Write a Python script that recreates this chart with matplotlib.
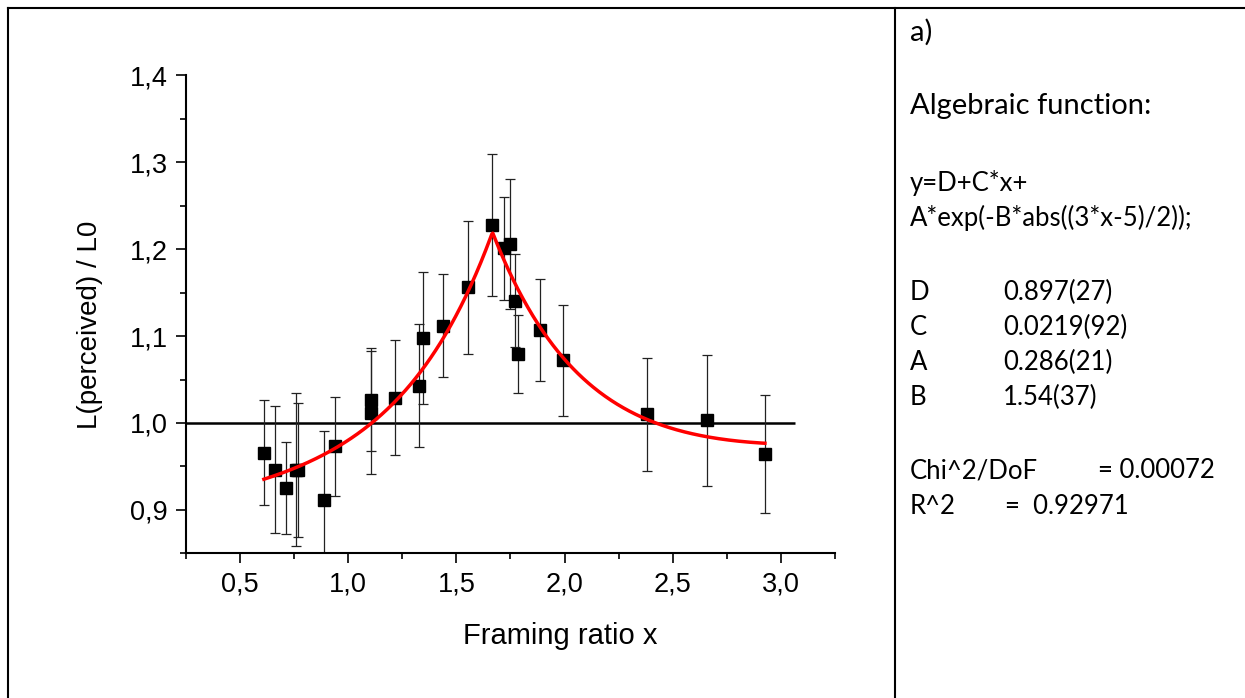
import numpy as np
import matplotlib.pyplot as plt
from matplotlib.lines import Line2D

# measured points (framing ratio, perceived luminance ratio, error)
x = [0.61, 0.66, 0.71, 0.757, 0.767, 0.89, 0.937, 1.107, 1.107, 1.216, 1.326,
     1.346, 1.436, 1.554, 1.664, 1.718, 1.746, 1.773, 1.783, 1.885, 1.992,
     2.381, 2.66, 2.926]
y = [0.966, 0.946, 0.925, 0.946, 0.946, 0.911, 0.973, 1.027, 1.012, 1.029,
     1.043, 1.098, 1.112, 1.156, 1.228, 1.201, 1.206, 1.141, 1.079, 1.107,
     1.072, 1.010, 1.003, 0.964]
yerr = [0.060, 0.073, 0.053, 0.088, 0.077, 0.080, 0.057, 0.059, 0.071, 0.066,
        0.071, 0.076, 0.059, 0.077, 0.082, 0.059, 0.075, 0.053, 0.045, 0.059,
        0.064, 0.065, 0.075, 0.068]

# fit parameters (as printed in the panel)
D, C, A, B = 0.897, 0.0219, 0.286, 1.54
ref_level = 1.0
ref_end = 3.065

xticks = [0.5, 1.0, 1.5, 2.0, 2.5, 3.0]
xtick_labels = ['0,5', '1,0', '1,5', '2,0', '2,5', '3,0']
yticks = [0.9, 1.0, 1.1, 1.2, 1.3, 1.4]
ytick_labels = ['0,9', '1,0', '1,1', '1,2', '1,3', '1,4']

W, H = 1245, 698
fig = plt.figure(figsize=(W / 100, H / 100), dpi=100)


def fx(px):
    return px / W


def fy(py):
    return 1 - py / H


ax = fig.add_axes([fx(186), fy(553.3), fx(835) - fx(186), fy(75.5) - fy(553.3)])

ax.errorbar(x, y, yerr=yerr, fmt='none', ecolor='#222222', elinewidth=0.9,
            capsize=3.5, capthick=0.9, zorder=2)
ax.plot(x, y, 's', color='black', markersize=8, zorder=3)

xf = np.linspace(min(x), max(x), 500)
yf = D + C * xf + A * np.exp(-B * np.abs((3 * xf - 5) / 2))
ax.plot(xf, yf, color='#ff0000', lw=2.5, zorder=4)

ax.hlines(ref_level, 0.25, ref_end, color='black', lw=1.8, zorder=1)

ax.set_xlim(0.25, 3.25)
ax.set_ylim(0.85, 1.4)
ax.spines['top'].set_visible(False)
ax.spines['right'].set_visible(False)
for s in ['left', 'bottom']:
    ax.spines[s].set_linewidth(1.5)

ax.set_xticks(xticks)
ax.set_xticklabels(xtick_labels)
ax.set_yticks(yticks)
ax.set_yticklabels(ytick_labels)
ax.set_xticks(np.arange(0.25, 3.3, 0.5), minor=True)
ax.set_yticks([0.85, 0.95, 1.05, 1.15, 1.25, 1.35], minor=True)
ax.tick_params(which='major', direction='out', length=7, width=1.2,
               labelsize=19.5, pad=6)
ax.tick_params(which='minor', direction='out', length=4, width=1.2)
for lab in ax.get_xticklabels() + ax.get_yticklabels():
    lab.set_family('Liberation Sans')

fig.text(fx(560), fy(636), 'Framing ratio x', ha='center', va='center',
         fontsize=21, family='Liberation Sans')
fig.text(fx(90), fy(325), 'L(perceived) / L0', ha='center', va='center',
         rotation=90, fontsize=20, family='Liberation Sans')

# table-like frame
lw = 1.5
fig.add_artist(Line2D([fx(8), 1], [fy(8), fy(8)], color='black', lw=lw))
fig.add_artist(Line2D([fx(8), fx(8)], [0, fy(8)], color='black', lw=lw))
fig.add_artist(Line2D([fx(895), fx(895)], [0, fy(8)], color='black', lw=lw))

# right-hand panel
big, small = 21, 18.5
tf = 'Lato'
fig.text(fx(910), fy(32), 'a)', fontsize=big, family=tf, va='center')
fig.text(fx(910), fy(106), 'Algebraic function:', fontsize=big, family=tf, va='center')
fig.text(fx(910), fy(183), 'y=D+C*x+', fontsize=small, family=tf, va='center')
fig.text(fx(910), fy(218), 'A*exp(-B*abs((3*x-5)/2));', fontsize=small, family=tf, va='center')

names = ['D', 'C', 'A', 'B']
values = ['0.897(27)', '0.0219(92)', '0.286(21)', '1.54(37)']
for i, (n, v) in enumerate(zip(names, values)):
    yy = 292 + i * 35.3
    fig.text(fx(910), fy(yy), n, fontsize=small, family=tf, va='center')
    fig.text(fx(1003), fy(yy), v, fontsize=small, family=tf, va='center')

fig.text(fx(910), fy(471), 'Chi^2/DoF', fontsize=small, family=tf, va='center')
fig.text(fx(1098), fy(471), '= 0.00072', fontsize=small, family=tf, va='center')
fig.text(fx(910), fy(506), 'R^2', fontsize=small, family=tf, va='center')
fig.text(fx(1005), fy(506), '=  0.92971', fontsize=small, family=tf, va='center')

fig.savefig('out.png', dpi=100)
